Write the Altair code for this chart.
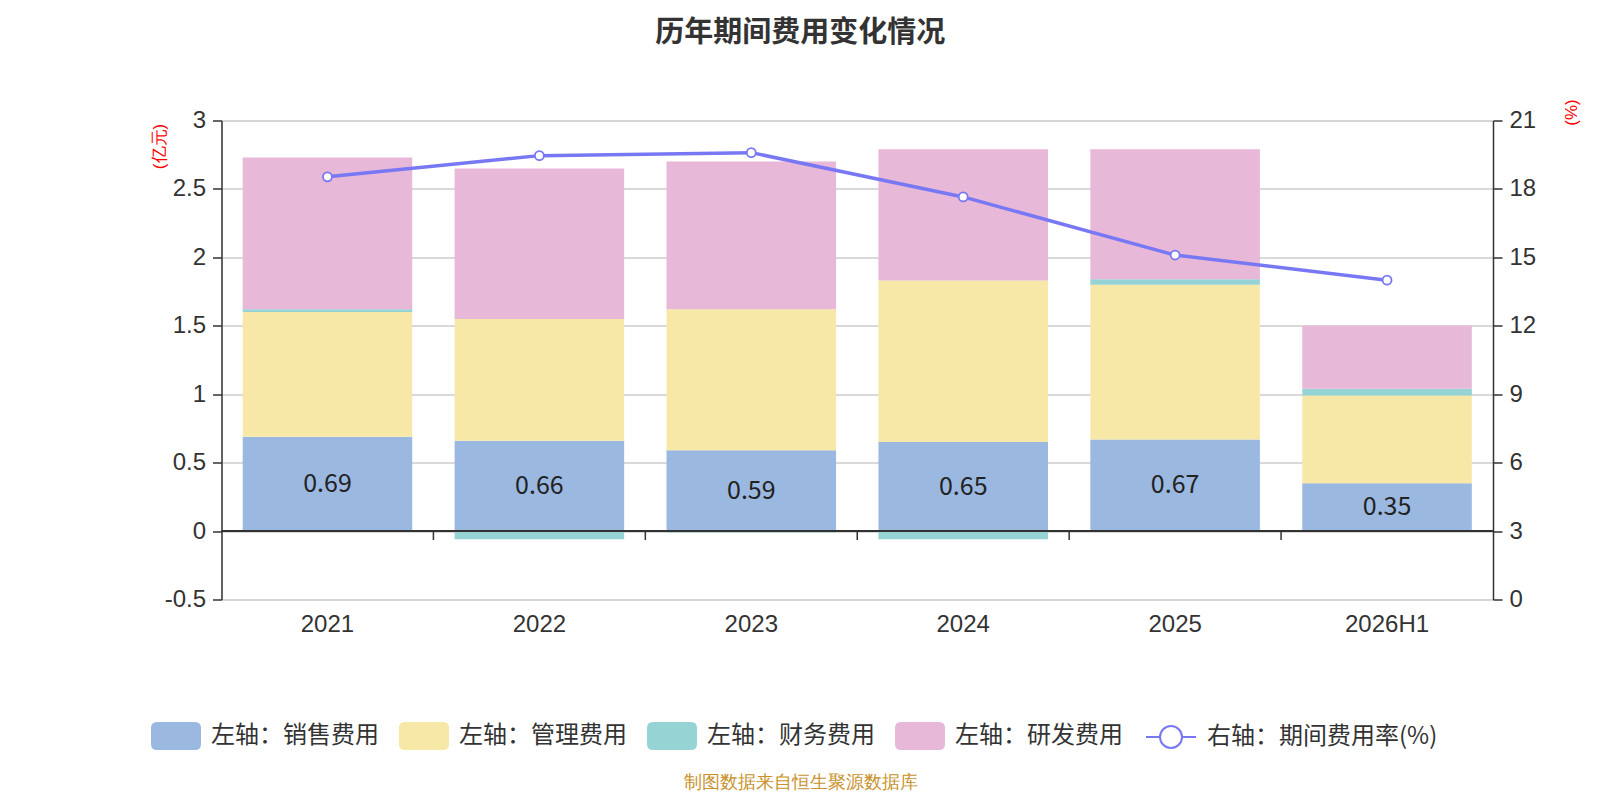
import altair as alt
import pandas as pd

# ---------------- data ----------------
years = ["2021", "2022", "2023", "2024", "2025", "2026H1"]
sales = [0.69, 0.66, 0.59, 0.65, 0.67, 0.35]      # 销售费用
admin = [0.91, 0.89, 1.03, 1.18, 1.13, 0.64]      # 管理费用
finance = [0.02, -0.06, -0.01, -0.06, 0.04, 0.05]  # 财务费用
rd = [1.11, 1.10, 1.08, 0.96, 0.95, 0.46]         # 研发费用
rate = [18.53, 19.46, 19.59, 17.65, 15.10, 14.00]  # 期间费用率(%)

bar_series = ["左轴：销售费用", "左轴：管理费用", "左轴：财务费用", "左轴：研发费用"]
bar_colors = ["#9BB8E1", "#F8E8A8", "#96D3D4", "#E7B8D8"]
line_series = "右轴：期间费用率(%)"
line_color = "#7878F4"

title_text = "历年期间费用变化情况"
source_text = "制图数据来自恒生聚源数据库"
left_unit = "(亿元)"
right_unit = "(%)"
left_ticks = [-0.5, 0, 0.5, 1, 1.5, 2, 2.5, 3]
right_ticks = [0, 3, 6, 9, 12, 15, 18, 21]

# ---------------- tables ----------------
series_values = [sales, admin, finance, rd]
rows = []
for k, (name, vals) in enumerate(zip(bar_series, series_values)):
    for y, v in zip(years, vals):
        rows.append({"year": y, "series": name, "value": v, "order": k})
bars_df = pd.DataFrame(rows)

label_df = pd.DataFrame({"year": years, "sales": sales,
                         "mid": [v / 2 for v in sales],
                         "text": [f"{v:.2f}" for v in sales]})
line_df = pd.DataFrame({"year": years, "rate": rate, "series": line_series})
tick_df = pd.DataFrame({"year": years[1:]})

FONT = "Noto Sans CJK SC"
W, H = 1271.5, 479
STEP = W / len(years)

x_axis = alt.Axis(
    title=source_text, ticks=False, domain=False, grid=False,
    labelAngle=0, labelFontSize=24, labelPadding=13, labelColor="#333333",
    titleX=578.5, titleY=183, titleAlign="center", titleBaseline="middle",
    titleColor="#C8922B", titleFontSize=18, titleFontWeight="normal",
)
x_scale = alt.Scale(domain=years, paddingInner=0.2, paddingOuter=0.1)


def X(**kw):
    return alt.X("year:N", sort=years, scale=x_scale, axis=x_axis, **kw)


y_left_scale = alt.Scale(domain=[-0.5, 3], nice=False, zero=False)
y_left_axis = alt.Axis(
    values=left_ticks, labelExpr="datum.value + ''",
    title=left_unit, titleX=-62.5, titleY=25.5, titleAngle=270,
    titleAlign="center", titleBaseline="middle", titleColor="#FF0000",
    titleFontSize=17, titleFontWeight="normal",
    grid=True, gridColor="#CCCCCC", gridWidth=1.5,
    domain=True, domainColor="#333333", domainWidth=1.5,
    ticks=True, tickColor="#333333", tickWidth=1.5, tickSize=9,
    labelFontSize=24, labelPadding=7, labelColor="#333333",
)

# rounded rectangle swatch
rr = ("M-0.76,-0.56 L0.76,-0.56 Q1,-0.56 1,-0.32 L1,0.32 Q1,0.56 0.76,0.56 "
      "L-0.76,0.56 Q-1,0.56 -1,0.32 L-1,-0.32 Q-1,-0.56 -0.76,-0.56 Z")
line_sym = ("M-1,0 L-0.44,0 M0.44,0 L1,0 M-0.44,0 A0.44,0.44 0 1,0 0.44,0 "
            "A0.44,0.44 0 1,0 -0.44,0")

bars = alt.Chart(bars_df).mark_bar().encode(
    x=X(),
    y=alt.Y("value:Q", stack="zero", scale=y_left_scale, axis=y_left_axis),
    color=alt.Color(
        "series:N",
        scale=alt.Scale(domain=bar_series, range=bar_colors),
        sort=bar_series,
        legend=alt.Legend(
            title=None, orient="none", direction="horizontal",
            legendX=-70.5, legendY=590.5,
            symbolType=rr, symbolSize=2500, symbolStrokeWidth=0, symbolOpacity=1,
            labelFontSize=24, labelColor="#333333", labelFont=FONT,
            labelLimit=0, labelOffset=10, columnPadding=20,
        ),
    ),
    order=alt.Order("order:Q", sort="ascending"),
)

zero_rule = alt.Chart(label_df).mark_rule(color="#333333", strokeWidth=1.5).encode(
    y=alt.datum(0, scale=y_left_scale),
    x=alt.value(0),
    x2=alt.value(W),
)

x_ticks = alt.Chart(tick_df).mark_rule(
    color="#333333", strokeWidth=1.5, xOffset=-STEP * 0.1
).encode(
    x=X(bandPosition=0),
    y=alt.datum(0, scale=y_left_scale),
    y2=alt.value(H * 3 / 3.5 + 9),
)

labels = alt.Chart(label_df).mark_text(
    fontSize=25, color="#222222", font=FONT, baseline="middle", align="center"
).encode(
    x=X(),
    y=alt.Y("mid:Q", scale=y_left_scale, axis=y_left_axis),
    text="text:N",
)

left = alt.layer(bars, zero_rule, x_ticks, labels)

y_right_scale = alt.Scale(domain=[0, 21], nice=False)
y_right_axis = alt.Axis(
    orient="right", values=right_ticks, labelExpr="datum.value + ''",
    title=right_unit, titleX=78, titleY=-8.5, titleAngle=270,
    titleAlign="center", titleBaseline="middle", titleColor="#FF0000",
    titleFontSize=17, titleFontWeight="normal",
    grid=False, domain=True, domainColor="#333333", domainWidth=1.5,
    ticks=True, tickColor="#333333", tickWidth=1.5, tickSize=9,
    labelFontSize=24, labelPadding=7, labelColor="#333333",
)

line = alt.Chart(line_df).mark_line(strokeWidth=3.5).encode(
    x=X(),
    y=alt.Y("rate:Q", scale=y_right_scale, axis=y_right_axis),
    stroke=alt.Stroke(
        "series:N",
        scale=alt.Scale(domain=[line_series], range=[line_color]),
        legend=alt.Legend(
            title=None, orient="none", legendX=923.5, legendY=590.5,
            symbolType=line_sym, symbolSize=2500, symbolStrokeWidth=2,
            symbolFillColor="#FFFFFF", symbolOpacity=1,
            labelFontSize=24, labelColor="#333333", labelFont=FONT,
            labelLimit=0, labelOffset=10,
        ),
    ),
)

points = alt.Chart(line_df).mark_point(
    shape="circle", filled=True, fill="#FFFFFF", stroke=line_color,
    strokeWidth=1.8, size=80, opacity=1,
).encode(
    x=X(),
    y=alt.Y("rate:Q", scale=y_right_scale, axis=y_right_axis),
)

right = alt.layer(line, points)

chart = alt.layer(left, right).resolve_scale(y="independent").properties(
    width=W, height=H,
    padding={"left": 213.5, "top": 112.5, "right": 99, "bottom": 200.5},
    autosize=alt.AutoSizeParams(type="none"),
    title=alt.TitleParams(
        text=title_text, fontSize=29, fontWeight="bold", color="#333333",
        font=FONT, anchor="middle", dx=-57, offset=51,
    ),
).configure_view(strokeWidth=0).configure_axis(
    labelFont=FONT, titleFont=FONT
).configure(background="#FFFFFF")

chart.save("out.html", embed_options={"renderer": "svg", "actions": False})
